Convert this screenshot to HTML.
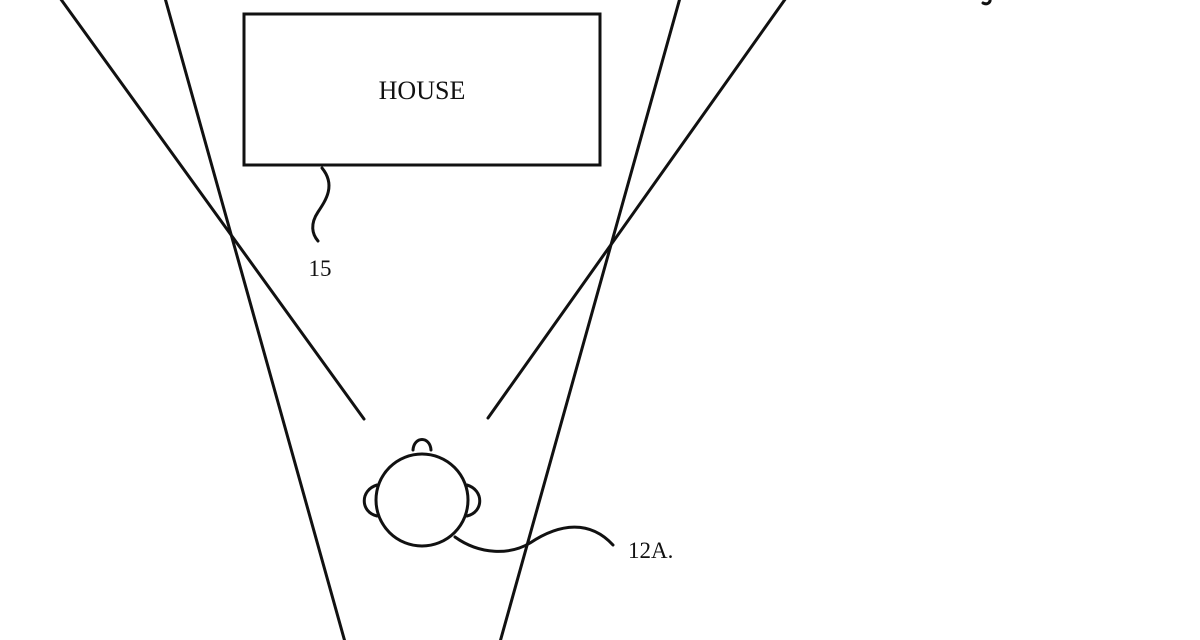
<!DOCTYPE html>
<html><head><style>
html,body{margin:0;padding:0;background:#fff;}
svg{display:block;}
text{font-family:"Liberation Serif",serif;fill:#111;}
</style></head><body>
<svg width="1200" height="640" viewBox="0 0 1200 640" xmlns="http://www.w3.org/2000/svg">
<g stroke="#111" stroke-width="3" fill="none" stroke-linecap="round">
<line x1="60" y1="-2" x2="364" y2="419"/>
<line x1="786" y1="-2" x2="488" y2="418"/>
<line x1="165" y1="-2" x2="345" y2="642"/>
<line x1="680" y1="-2" x2="500" y2="642"/>
<rect x="244" y="14" width="356" height="151"/>
<path d="M322 168 C336 185,326 200,318 212 C310 224,312 234,318 241"/>
<circle cx="422" cy="500" r="46"/>
<path d="M377 485 C360 490,360 512,377 516"/>
<path d="M467 485 C484 490,484 512,467 516"/>
<path d="M413 450 C414 436,430 436,431 450"/>
<path d="M455 537 C480 555,510 555,530 543 C560 523,590 520,613 545"/>
<path d="M990 -2 C991 3,987 5,983 3"/>
</g>
<text x="422" y="99" font-size="26" text-anchor="middle">HOUSE</text>
<text x="320" y="276" font-size="23" text-anchor="middle">15</text>
<text x="628" y="558" font-size="23">12A.</text>
</svg>
</body></html>
